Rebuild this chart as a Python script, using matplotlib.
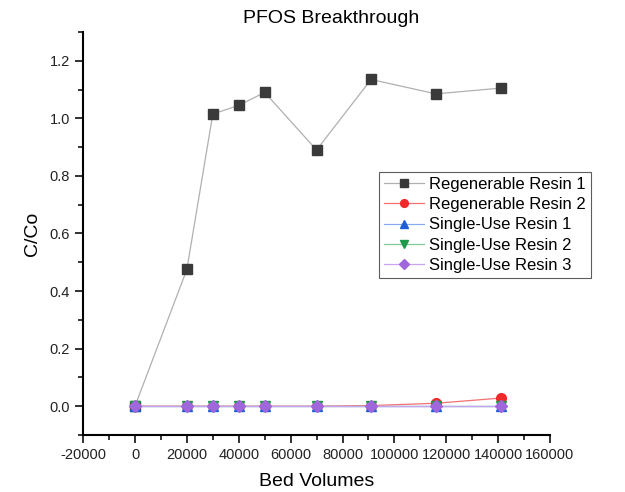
import matplotlib
matplotlib.use('Agg')
import matplotlib.pyplot as plt
from matplotlib.ticker import MultipleLocator

plt.rcParams['font.family'] = ['Liberation Sans', 'DejaVu Sans']

# bed volumes and C/Co values
bed_volumes = [0, 20000, 30000, 40000, 50000, 70000, 91000, 116000, 141000]
regen_1 = [0.0, 0.475, 1.015, 1.045, 1.09, 0.89, 1.135, 1.085, 1.105]
regen_2 = [0.0, 0.0, 0.0, 0.0, 0.0, 0.0, 0.002, 0.01, 0.028]
single_1 = [0.0] * 9
single_2 = [0.0] * 9
single_3 = [0.0] * 9

series = [
    ('Regenerable Resin 1', regen_1, 's', '#3a3a3a', '#b0b0b0'),
    ('Regenerable Resin 2', regen_2, 'o', '#f02a2a', '#f27070'),
    ('Single-Use Resin 1', single_1, '^', '#1e5fd8', '#88aaf0'),
    ('Single-Use Resin 2', single_2, 'v', '#1f9a4a', '#7fcc99'),
    ('Single-Use Resin 3', single_3, 'D', '#a066dc', '#c8a4ee'),
]

fig = plt.figure(figsize=(6.25, 4.92), dpi=100)
ax = fig.add_axes([0.133, 0.116, 0.747, 0.819])

for name, vals, mk, mc, lc in series:
    ax.plot(bed_volumes, vals, color=lc, lw=0.9, marker=mk, markersize=7 if mk != 'D' else 6,
            markerfacecolor=mc, markeredgecolor=mc, label=name)

ax.set_xlim(-20000, 160000)
ax.set_ylim(-0.1, 1.3)
ax.xaxis.set_major_locator(MultipleLocator(20000))
ax.xaxis.set_minor_locator(MultipleLocator(10000))
ax.yaxis.set_major_locator(MultipleLocator(0.2))
ax.yaxis.set_minor_locator(MultipleLocator(0.1))
ax.yaxis.set_major_formatter(plt.FormatStrFormatter('%.1f'))
ax.xaxis.set_major_formatter(plt.FormatStrFormatter('%d'))

ax.spines['top'].set_visible(False)
ax.spines['right'].set_visible(False)
ax.spines['left'].set_linewidth(1.5)
ax.spines['bottom'].set_linewidth(1.5)
ax.tick_params(which='major', direction='out', length=6, width=1.3, labelsize=10.5, colors='#222222')
ax.tick_params(which='minor', direction='out', length=3.5, width=1.1)

ax.set_xlabel('Bed Volumes', fontsize=14, labelpad=8)
ax.set_ylabel('C/Co', fontsize=14, labelpad=6)
fig.text(0.53, 0.945, 'PFOS Breakthrough', fontsize=14, ha='center', va='bottom')

leg = ax.legend(loc='upper left', bbox_to_anchor=(0.634, 0.653), fontsize=12,
                frameon=True, fancybox=False, edgecolor='#333333', markerscale=0.8,
                handlelength=2.4, borderpad=0.3, labelspacing=0.32, handletextpad=0.3,
                borderaxespad=0)
leg.get_frame().set_linewidth(0.8)

fig.savefig('out.png', dpi=100)
